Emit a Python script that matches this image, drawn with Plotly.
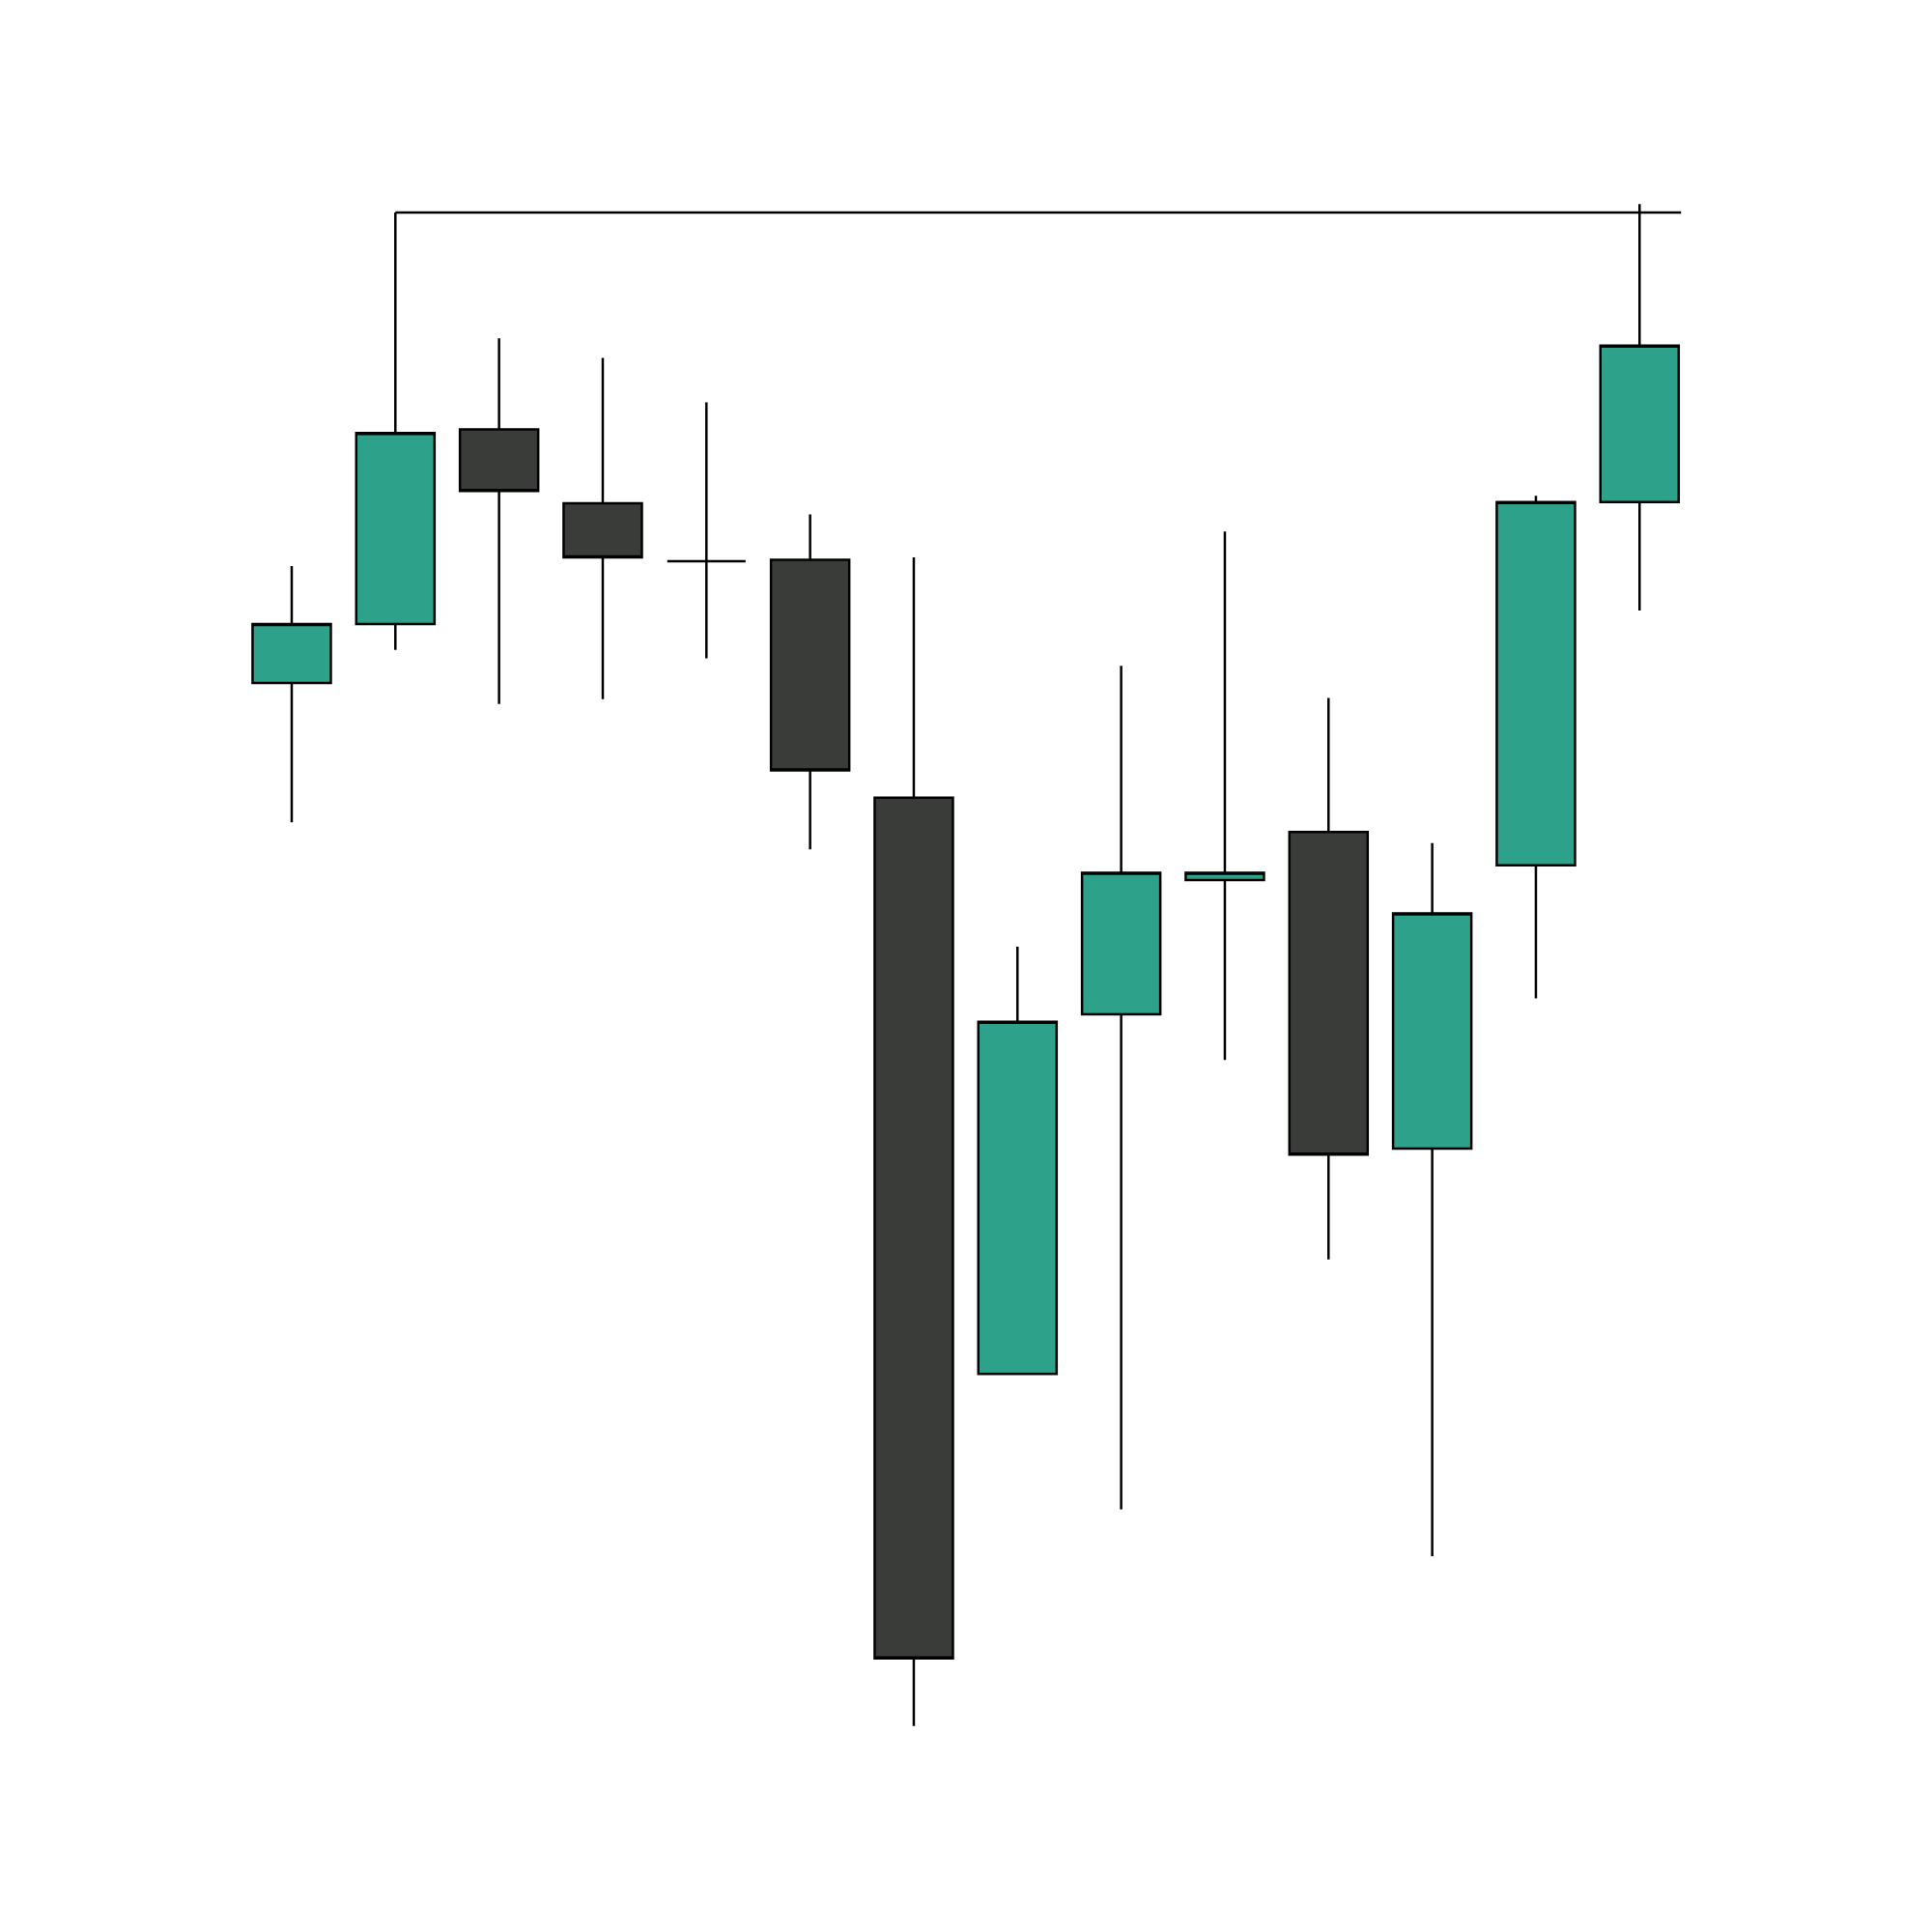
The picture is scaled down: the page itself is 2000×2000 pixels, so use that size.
import plotly.graph_objects as go

# daily candles
days = [1, 2, 3, 4, 5, 6, 7, 8, 9, 10, 11, 12, 13, 14]
open_ = [89.5, 94.3, 110.1, 104.1, 99.4, 99.5, 80.2, 33.4, 62.6, 73.5, 77.4, 51.7, 74.7, 104.2]
high = [99.0, 127.7, 117.5, 115.9, 112.3, 103.2, 99.7, 68.1, 90.9, 101.8, 88.3, 76.5, 104.7, 128.4]
low = [78.2, 92.2, 87.8, 88.2, 91.5, 76.0, 4.8, 33.4, 22.4, 58.9, 42.7, 18.6, 63.9, 95.4]
close = [94.3, 109.8, 105.1, 99.7, 99.4, 82.4, 10.3, 62.0, 74.1, 74.1, 51.2, 70.8, 104.2, 116.9]

# resistance level drawn from the day-2 high
level_day = 2
level_end = 14.4
level = high[days.index(level_day)]

GREEN = '#2ea18a'
DARK = '#3a3c3a'

fig = go.Figure()

fig.add_trace(go.Candlestick(
    x=days, open=open_, high=high, low=low, close=close,
    increasing=dict(fillcolor=GREEN, line=dict(color='black', width=2.5)),
    decreasing=dict(fillcolor=DARK, line=dict(color='black', width=2.5)),
    whiskerwidth=0,
    showlegend=False,
))

fig.add_shape(
    type='line', xref='x', yref='y',
    x0=level_day, x1=level_end, y0=level, y1=level,
    line=dict(color='black', width=2.5),
)

fig.update_layout(
    width=2000, height=2000,
    margin=dict(l=0, r=0, t=0, b=0),
    plot_bgcolor='white', paper_bgcolor='white',
    boxgap=0.245, boxgroupgap=0,
    showlegend=False,
)
fig.update_xaxes(visible=False, range=[-1.739, 16.895], rangeslider_visible=False)
fig.update_yaxes(visible=False, range=[-12.55, 144.34])

fig.write_html("out.html")
